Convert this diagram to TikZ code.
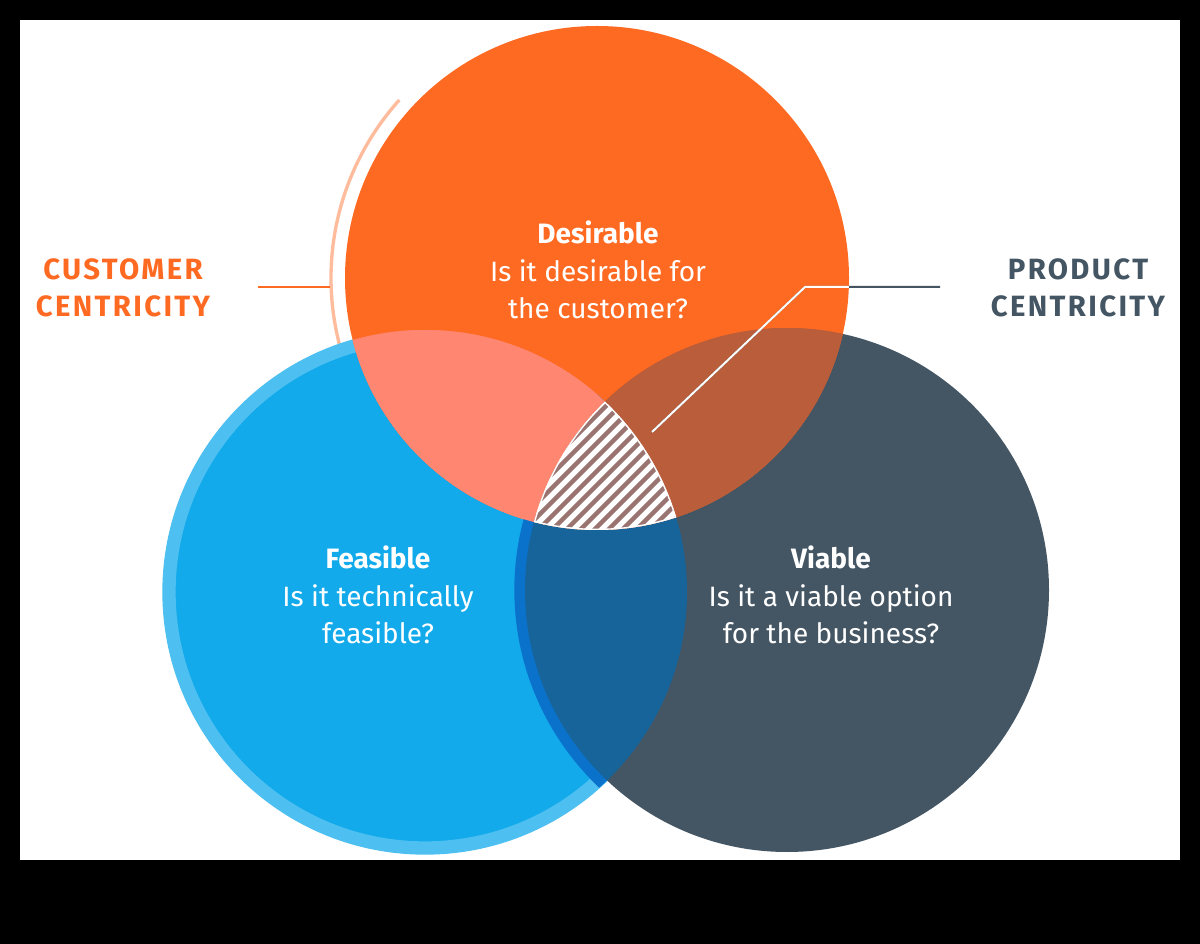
\documentclass[tikz,border=0pt]{standalone}
\usepackage{fontspec}
\setmainfont{Fira Sans}
\begin{document}
\begin{tikzpicture}[x=0.75pt,y=-0.75pt,
  lbl/.style={text=white,font=\fontsize{21}{28}\selectfont,align=center},
  side/.style={font=\fontsize{22}{28}\selectfont\bfseries\addfontfeature{LetterSpace=8},align=center}]
\definecolor{cor}{HTML}{FF6A22}
\definecolor{cbl}{HTML}{12AAEB}
\definecolor{csl}{HTML}{445563}
\definecolor{cob}{HTML}{FF8670}
\definecolor{cos}{HTML}{B95D3A}
\definecolor{cbs}{HTML}{17649A}
\definecolor{chx}{HTML}{9A7470}
\definecolor{cbr}{HTML}{0B72CC}
\useasboundingbox (0,0) rectangle (1200,944);
\fill[black] (0,0) rectangle (1200,944);
\fill[white] (20,20) rectangle (1180,860);
% outer ring of orange
\draw[cor!45,line width=2.5] (597,278) ++(118:266) arc[start angle=118,end angle=222,radius=266];
% circles
\fill[cbl] (425,592) circle[radius=262];
\draw[cbl!75!white,line width=10] (425,592) circle[radius=256];
\fill[csl] (787,590) circle[radius=262];
\fill[cor] (597,278) circle[radius=252];
% pairwise overlaps
\begin{scope}
 \clip (597,278) circle[radius=252];
 \fill[cob] (425,592) circle[radius=262];
 \fill[cos] (787,590) circle[radius=262];
\end{scope}
\begin{scope}
 \clip (425,592) circle[radius=262];
 \draw[cbr,line width=10] (787,590) circle[radius=266];
 \fill[cbs] (787,590) circle[radius=262];
\end{scope}
\begin{scope}
 \clip (597,278) circle[radius=252];
 \fill[cob] (425,592) circle[radius=262];
 \fill[cos] (787,590) circle[radius=262];
\end{scope}
% triple overlap
\begin{scope}
 \clip (597,278) circle[radius=252];
 \clip (425,592) circle[radius=262];
 \clip (787,590) circle[radius=262];
 \fill[white] (500,380) rectangle (720,560);
 \foreach \i in {-12,...,22} {
   \draw[chx,line width=3.2] (480+\i*14,560) -- ++(200,-200);
 }
\end{scope}
\begin{scope}
 \clip (597,278) circle[radius=252];
 \clip (425,592) circle[radius=262];
 \clip (787,590) circle[radius=262];
 \draw[white,line width=2] (597,278) circle[radius=252];
 \draw[white,line width=2] (425,592) circle[radius=262];
 \draw[white,line width=2] (787,590) circle[radius=262];
\end{scope}
% labels
\node[lbl] (des) at (598,270) {\textbf{Desirable}\\Is it desirable for\\the customer?};
\node[lbl] (fea) at (378,595) {\textbf{Feasible}\\Is it technically\\feasible?};
\node[lbl] (via) at (831,595) {\textbf{Viable}\\Is it a viable option\\for the business?};
\node[side,text=cor] (cc) at (123,288) {CUSTOMER\\CENTRICITY};
\node[side,text=csl] (pc) at (1078,288) {PRODUCT\\CENTRICITY};
\coordinate (cl) at (258,287);
\coordinate (cr) at (330,287);
\draw[cor,line width=1.5] (cl) -- (cr);
\coordinate (p1) at (940,287);
\coordinate (p2) at (805,287);
\coordinate (p3) at (652,432);
\draw[csl,line width=1.5] (p1) -- (p2) -- (p3);
\begin{scope}
 \clip (597,278) circle[radius=252];
 \draw[white,line width=1.5] (p1) -- (p2) -- (p3);
\end{scope}
\end{tikzpicture}
\end{document}
